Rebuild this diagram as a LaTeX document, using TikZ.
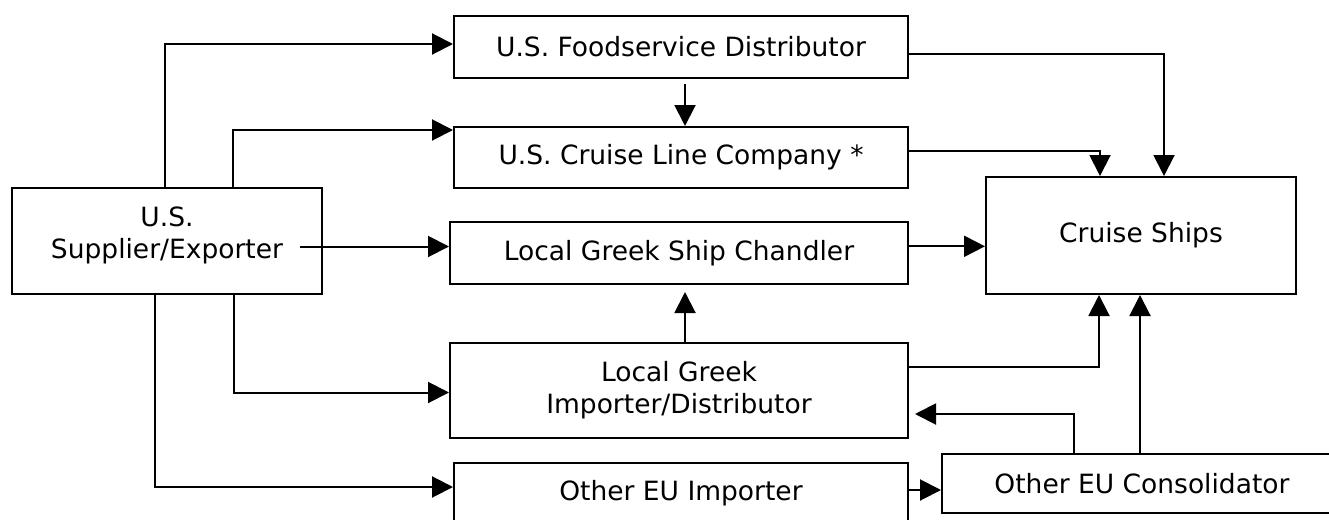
\documentclass[tikz,border=0pt]{standalone}
\usepackage{fontspec}
\setmainfont{DejaVu Sans}
\usetikzlibrary{arrows.meta}
\tikzset{
  box/.style={draw, line width=2pt, anchor=north west, align=center, inner sep=0pt,
              font=\fontsize{26.5}{32}\selectfont},
  arr/.style={line width=2pt, -{Triangle[length=21pt,width=21pt]}},
  ln/.style={line width=2pt}
}
\begin{document}
\begin{tikzpicture}[x=1pt,y=-1pt]
\useasboundingbox (0,0) rectangle (1329,519);
% nodes
\node[box, minimum width=310pt, minimum height=106pt] (sup) at (11,187) {U.S.\\Supplier/Exporter\\[-16pt]~};
\node[box, minimum width=454pt, minimum height=62pt] (food) at (453,15) {U.S. Foodservice Distributor};
\node[box, minimum width=454pt, minimum height=61pt] (cl) at (453,126) {U.S. Cruise Line Company *};
\node[box, minimum width=458pt, minimum height=62pt] (ch) at (449,221) {Local Greek Ship Chandler};
\node[box, minimum width=310pt, minimum height=117pt] (cs) at (985,176) {Cruise Ships};
\node[box, minimum width=458pt, minimum height=95pt] (imp) at (449,342) {Local Greek\\Importer/Distributor};
\node[box, minimum width=454pt, minimum height=60pt] (eui) at (453,462) {Other EU Importer};
\node[box, minimum width=400pt, minimum height=59pt] (con) at (941,453) {Other EU Consolidator};
% supplier connectors
\draw[arr] ([xshift=154pt]sup.north west) |- ([yshift=3pt]food.west);
\draw[arr] ([xshift=222pt]sup.north west) |- ([yshift=27.5pt]cl.west);
\coordinate (s3) at ([xshift=133pt,yshift=-5.5pt]sup.center);
\draw[arr] (s3) -- (s3 -| ch.west);
\draw[arr] ([xshift=223pt]sup.south west) |- ([yshift=-2pt]imp.west);
\draw[arr] ([xshift=144pt]sup.south west) |- ([yshift=6pt]eui.west);
% foodservice
\draw[arr] ([xshift=4pt,yshift=-5pt]food.south) -- ([xshift=4pt]cl.north);
\draw[arr] ([yshift=-7pt]food.east) -| ([xshift=23pt]cs.north);
% cruise line
\draw[arr] ([yshift=7pt]cl.east) -| ([xshift=-41pt]cs.north);
% chandler
\coordinate (s9) at ([yshift=6.7pt]ch.east);
\draw[arr] (s9) -- (s9 -| cs.west);
% importer
\draw[arr] ([xshift=6pt]imp.north) -- ([xshift=6pt,yshift=-7pt]ch.south);
\draw[arr] ([yshift=24pt]imp.east) -| ([xshift=-42pt]cs.south);
% consolidator
\coordinate (s12) at ([xshift=-2pt]con.north);
\draw[arr] (s12) -- (s12 |- cs.south);
\draw[arr] ([xshift=-68pt]con.north) |- ([xshift=6pt,yshift=-23.5pt]imp.east);
% other EU importer
\coordinate (s14) at ([yshift=3pt]eui.east);
\draw[arr] (s14) -- (s14 -| con.west);
\end{tikzpicture}
\end{document}
